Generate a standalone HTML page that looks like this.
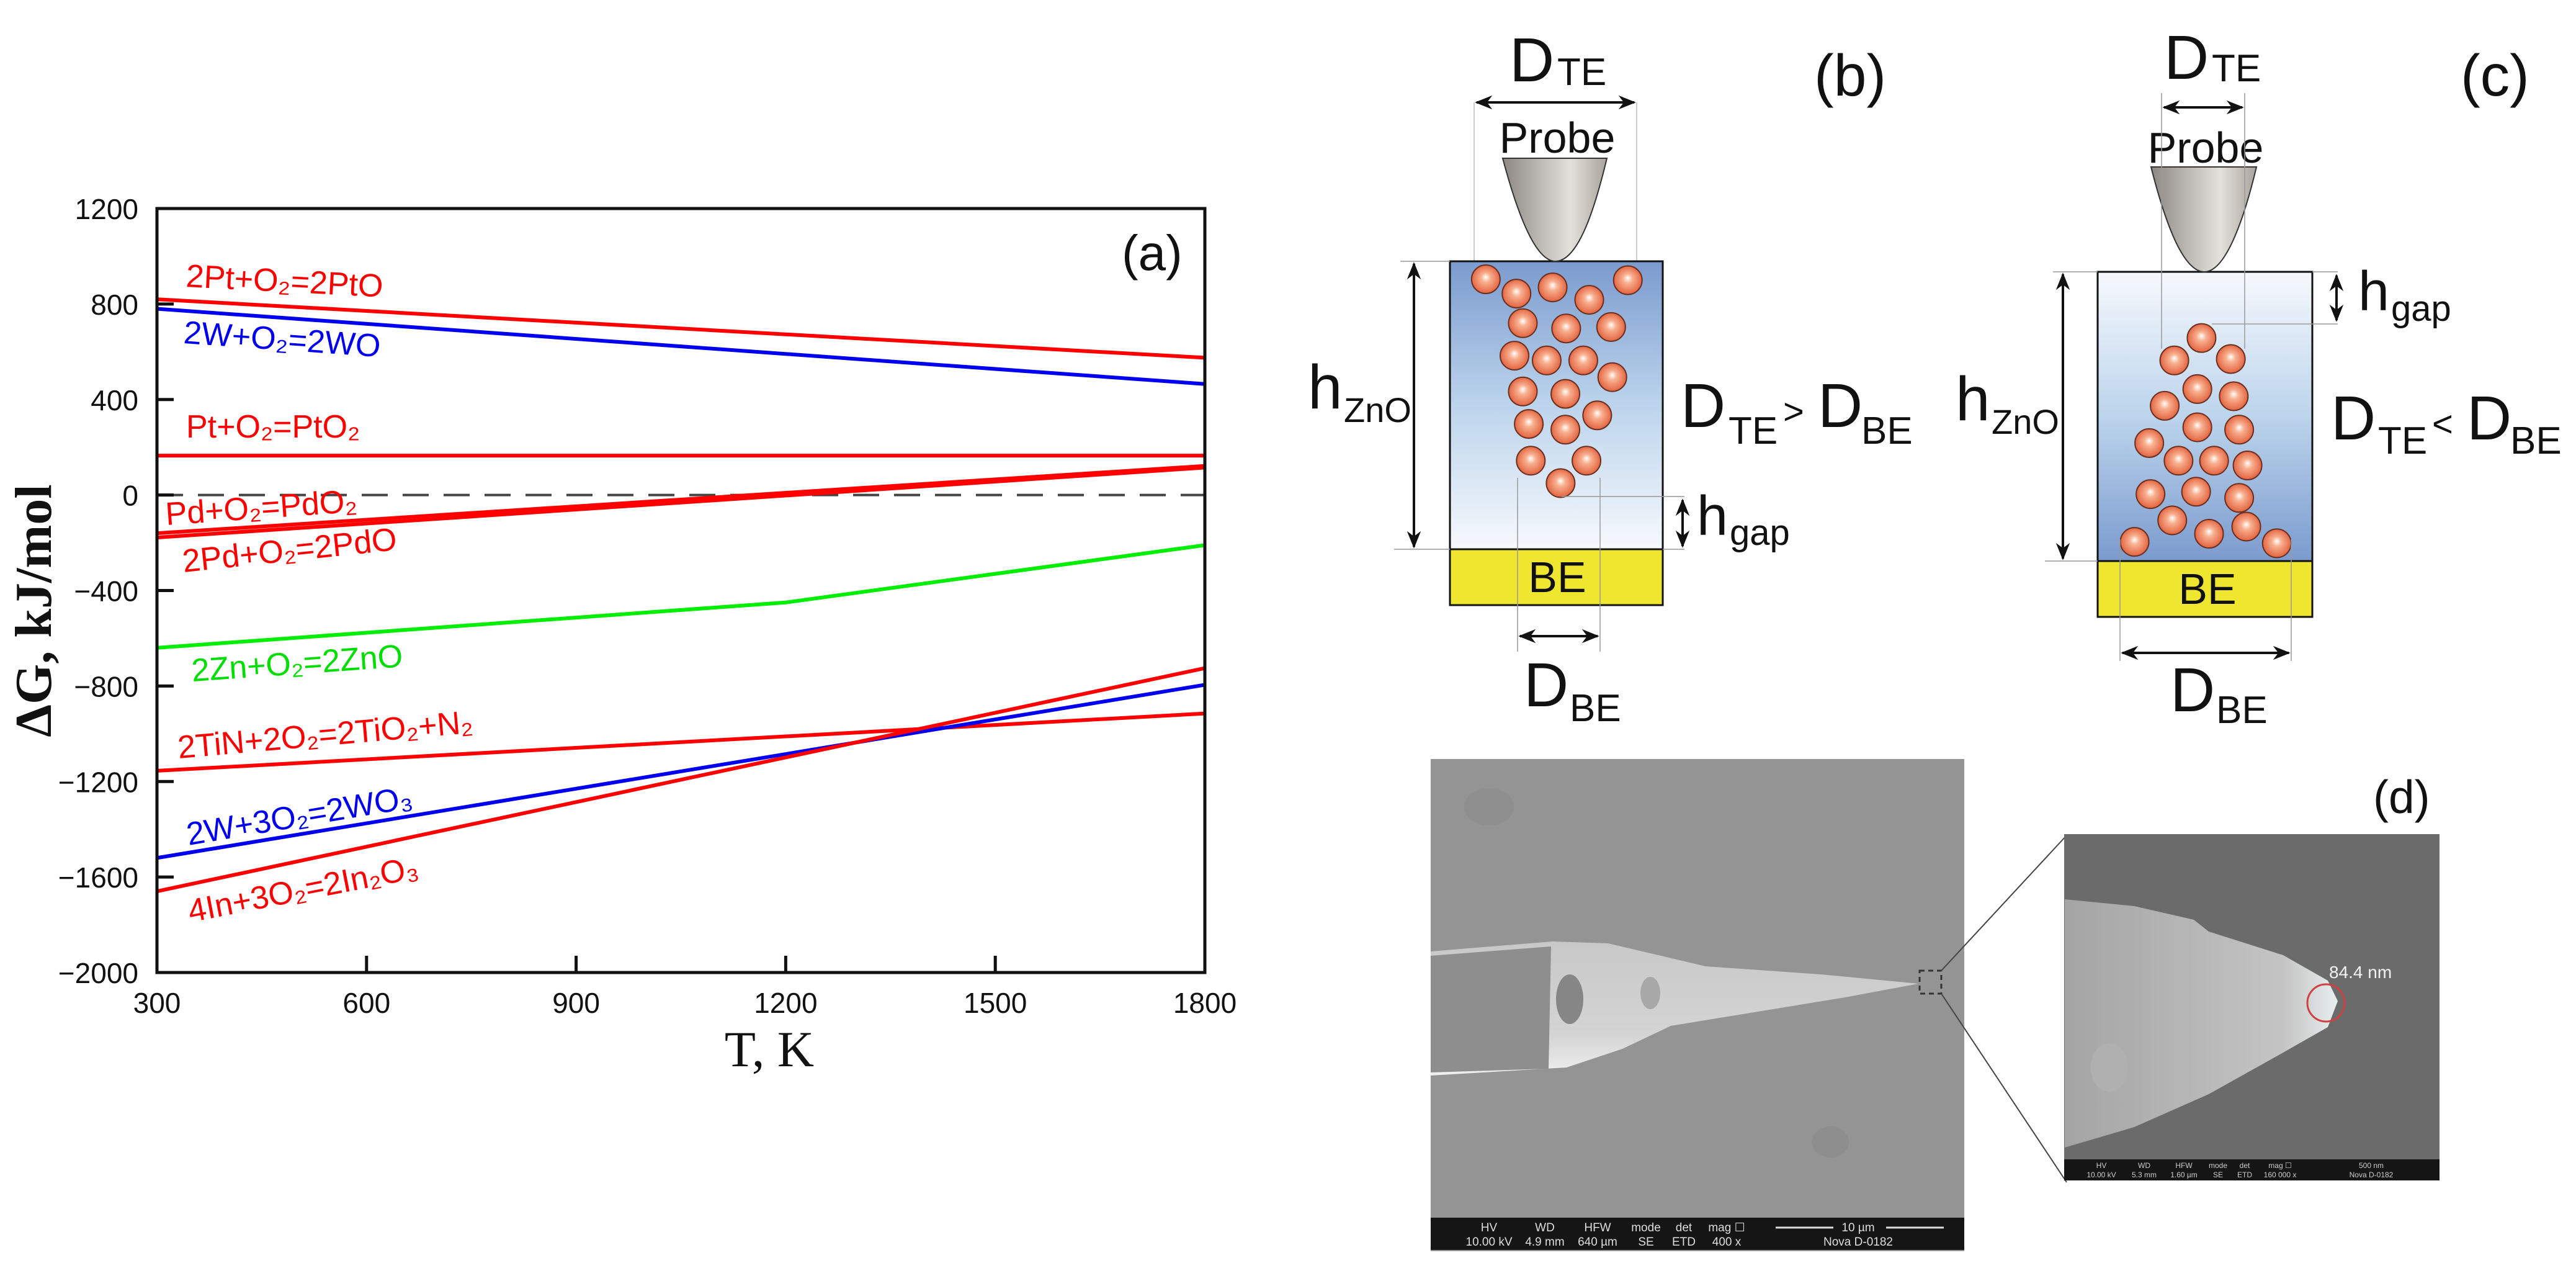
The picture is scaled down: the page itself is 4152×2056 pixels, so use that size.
<!DOCTYPE html>
<html><head><meta charset="utf-8">
<style>
html,body{margin:0;padding:0;background:#fff;}
svg{display:block;}
text{font-family:"Liberation Sans",sans-serif;}
.serif{font-family:"Liberation Serif",serif;}
</style></head>
<body>
<svg id="fig" width="4152" height="2056" viewBox="0 0 4152 2056" xmlns="http://www.w3.org/2000/svg">
<defs>
  <radialGradient id="ball" cx="50%" cy="50%" r="55%" fx="50%" fy="42%">
    <stop offset="0" stop-color="#ffffff"/>
    <stop offset="0.3" stop-color="#f8b090"/>
    <stop offset="1" stop-color="#e05a36"/>
  </radialGradient>
  <linearGradient id="probeG" x1="0" y1="0" x2="1" y2="0">
    <stop offset="0" stop-color="#8c8782"/>
    <stop offset="0.65" stop-color="#e4e1dc"/>
    <stop offset="1" stop-color="#a9a39c"/>
  </linearGradient>
  <linearGradient id="boxB" x1="0" y1="0" x2="0" y2="1">
    <stop offset="0" stop-color="#7b9bce"/>
    <stop offset="0.5" stop-color="#bcd4ec"/>
    <stop offset="1" stop-color="#f6f9fd"/>
  </linearGradient>
  <linearGradient id="boxC" x1="0" y1="0" x2="0" y2="1">
    <stop offset="0" stop-color="#f6f9fd"/>
    <stop offset="0.5" stop-color="#bcd4ec"/>
    <stop offset="1" stop-color="#7b9bce"/>
  </linearGradient>
  <linearGradient id="tipG" x1="0" y1="0" x2="1" y2="0">
    <stop offset="0" stop-color="#a4a4a4"/>
    <stop offset="0.8" stop-color="#c4c4c4"/>
    <stop offset="1" stop-color="#e8eeee"/>
  </linearGradient>
  <linearGradient id="needleG" x1="0" y1="0" x2="0" y2="1">
    <stop offset="0" stop-color="#c8c8c8"/>
    <stop offset="0.7" stop-color="#d4d4d4"/>
    <stop offset="1" stop-color="#f0f0f0"/>
  </linearGradient>
  <marker id="ah" viewBox="0 0 10 10" refX="9" refY="5" markerWidth="7" markerHeight="7" orient="auto-start-reverse">
    <path d="M0,1 L10,5 L0,9 L3,5 Z" fill="#111"/>
  </marker>
</defs>

<!-- ============ Panel (a) chart ============ -->
<g id="chart">
  <g id="series"></g>
  <g id="axes"></g>
  <g font-size="52">
    <text x="299" y="462" fill="#ff0000" transform="rotate(3 299 462)">2Pt+O₂=2PtO</text>
    <text x="295" y="553" fill="#0000ee" transform="rotate(4 295 553)">2W+O₂=2WO</text>
    <text x="300" y="705" fill="#ff0000">Pt+O₂=PtO₂</text>
    <text x="268" y="846" fill="#ff0000" transform="rotate(-4 268 846)">Pd+O₂=PdO₂</text>
    <text x="296" y="922" fill="#ff0000" transform="rotate(-6 296 922)">2Pd+O₂=2PdO</text>
    <text x="310" y="1098" fill="#00dd00" transform="rotate(-4 310 1098)">2Zn+O₂=2ZnO</text>
    <text x="288" y="1222" fill="#ff0000" transform="rotate(-5 288 1222)">2TiN+2O₂=2TiO₂+N₂</text>
    <text x="304" y="1362" fill="#0000ee" transform="rotate(-9.5 304 1362)">2W+3O₂=2WO₃</text>
    <text x="307" y="1486" fill="#ff0000" transform="rotate(-11 307 1486)">4In+3O₂=2In₂O₃</text>
  </g>
  <text x="1808" y="435" font-size="80" fill="#111">(a)</text>
  <text class="serif" font-size="84" font-weight="bold" fill="#111" transform="translate(82 984) rotate(-90)" text-anchor="middle">ΔG, kJ/mol</text>
  <text class="serif" font-size="82" fill="#111" x="1240" y="1718" text-anchor="middle">T, K</text>
</g>

<!-- ============ Panel (b) ============ -->
<g>
  <line x1="2376" y1="165" x2="2376" y2="421" stroke="#bbb" stroke-width="1.5"/>
  <line x1="2638" y1="165" x2="2638" y2="421" stroke="#bbb" stroke-width="1.5"/>
  <text x="2433" y="131" font-size="100" fill="#111">D</text>
  <text x="2510" y="137" font-size="62" fill="#111">TE</text>
  <line x1="2380" y1="165" x2="2634" y2="165" stroke="#111" stroke-width="4" marker-start="url(#ah)" marker-end="url(#ah)"/>
  <text x="2510" y="246" font-size="70" fill="#111" text-anchor="middle">Probe</text>
  <rect x="2337" y="421" width="343" height="464" fill="url(#boxB)" stroke="#111" stroke-width="3"/>
  <path d="M2422,255 L2590,255 C2572,330 2545,421 2507,421 C2472,421 2442,330 2422,255 Z" fill="url(#probeG)" stroke="#333" stroke-width="2"/>
  <rect x="2337" y="885" width="343" height="90" fill="#efe630" stroke="#111" stroke-width="3"/>
  <g id="ballsB"></g>
  <line x1="2446" y1="770" x2="2446" y2="1050" stroke="#999" stroke-width="1.5"/>
  <line x1="2579" y1="770" x2="2579" y2="1050" stroke="#999" stroke-width="1.5"/>
  <text x="2510" y="954" font-size="70" fill="#111" text-anchor="middle">BE</text>
  <line x1="2257" y1="421" x2="2337" y2="421" stroke="#999" stroke-width="1.5"/>
  <line x1="2247" y1="885" x2="2337" y2="885" stroke="#999" stroke-width="1.5"/>
  <line x1="2279" y1="425" x2="2279" y2="881" stroke="#111" stroke-width="4" marker-start="url(#ah)" marker-end="url(#ah)"/>
  <text x="2108" y="658" font-size="100" fill="#111">h</text>
  <text x="2166" y="680" font-size="56" fill="#111">ZnO</text>
  <text x="2709" y="688" font-size="100" fill="#111">D</text>
  <text x="2786" y="715" font-size="62" fill="#111">TE</text>
  <text x="2874" y="683" font-size="58" fill="#111">&gt;</text>
  <text x="2930" y="688" font-size="100" fill="#111">D</text>
  <text x="3000" y="715" font-size="62" fill="#111">BE</text>
  <line x1="2517" y1="800" x2="2715" y2="800" stroke="#999" stroke-width="1.5"/>
  <line x1="2680" y1="885" x2="2715" y2="885" stroke="#999" stroke-width="1.5"/>
  <line x1="2712" y1="806" x2="2712" y2="880" stroke="#111" stroke-width="4" marker-start="url(#ah)" marker-end="url(#ah)"/>
  <text x="2735" y="862" font-size="90" fill="#111">h</text>
  <text x="2788" y="878" font-size="58" fill="#111">gap</text>
  <line x1="2450" y1="1025" x2="2575" y2="1025" stroke="#111" stroke-width="4" marker-start="url(#ah)" marker-end="url(#ah)"/>
  <text x="2456" y="1138" font-size="100" fill="#111">D</text>
  <text x="2530" y="1162" font-size="62" fill="#111">BE</text>
  <text x="2924" y="154" font-size="95" fill="#111">(b)</text>
</g>

<!-- ============ Panel (c) ============ -->
<g>
  <text x="3488" y="127" font-size="100" fill="#111">D</text>
  <text x="3565" y="131" font-size="62" fill="#111">TE</text>
  <line x1="3488" y1="173" x2="3614" y2="173" stroke="#111" stroke-width="4" marker-start="url(#ah)" marker-end="url(#ah)"/>
  <text x="3555" y="262" font-size="70" fill="#111" text-anchor="middle">Probe</text>
  <rect x="3381" y="438" width="346" height="466" fill="url(#boxC)" stroke="#111" stroke-width="3"/>
  <path d="M3467,269 L3637,269 C3620,340 3590,438 3553,438 C3515,438 3485,340 3467,269 Z" fill="url(#probeG)" stroke="#333" stroke-width="2"/>
  <line x1="3484" y1="150" x2="3484" y2="562" stroke="#999" stroke-width="1.5"/>
  <line x1="3618" y1="150" x2="3618" y2="562" stroke="#999" stroke-width="1.5"/>
  <rect x="3381" y="904" width="346" height="90" fill="#efe630" stroke="#111" stroke-width="3"/>
  <g id="ballsC"></g>
  <line x1="3417" y1="869" x2="3417" y2="1065" stroke="#999" stroke-width="1.5"/>
  <line x1="3693" y1="869" x2="3693" y2="1065" stroke="#999" stroke-width="1.5"/>
  <text x="3558" y="973" font-size="70" fill="#111" text-anchor="middle">BE</text>
  <line x1="3309" y1="438" x2="3381" y2="438" stroke="#999" stroke-width="1.5"/>
  <line x1="3296" y1="904" x2="3381" y2="904" stroke="#999" stroke-width="1.5"/>
  <line x1="3325" y1="442" x2="3325" y2="900" stroke="#111" stroke-width="4" marker-start="url(#ah)" marker-end="url(#ah)"/>
  <text x="3152" y="677" font-size="100" fill="#111">h</text>
  <text x="3210" y="699" font-size="56" fill="#111">ZnO</text>
  <text x="3757" y="708" font-size="100" fill="#111">D</text>
  <text x="3833" y="731" font-size="62" fill="#111">TE</text>
  <text x="3920" y="703" font-size="58" fill="#111">&lt;</text>
  <text x="3976" y="708" font-size="100" fill="#111">D</text>
  <text x="4046" y="731" font-size="62" fill="#111">BE</text>
  <line x1="3727" y1="438" x2="3768" y2="438" stroke="#999" stroke-width="1.5"/>
  <line x1="3565" y1="522" x2="3768" y2="522" stroke="#999" stroke-width="1.5"/>
  <line x1="3766" y1="444" x2="3766" y2="516" stroke="#111" stroke-width="4" marker-start="url(#ah)" marker-end="url(#ah)"/>
  <text x="3801" y="500" font-size="90" fill="#111">h</text>
  <text x="3854" y="517" font-size="58" fill="#111">gap</text>
  <line x1="3421" y1="1052" x2="3689" y2="1052" stroke="#111" stroke-width="4" marker-start="url(#ah)" marker-end="url(#ah)"/>
  <text x="3498" y="1146" font-size="100" fill="#111">D</text>
  <text x="3572" y="1165" font-size="62" fill="#111">BE</text>
  <text x="3966" y="154" font-size="95" fill="#111">(c)</text>
</g>

<!-- ============ Panel (d) SEM ============ -->
<g>
  <rect x="2306" y="1223" width="860" height="793" fill="#949494"/>
  <ellipse cx="2400" cy="1300" rx="40" ry="30" fill="#8f8f8f"/>
  <ellipse cx="2950" cy="1840" rx="30" ry="25" fill="#8e8e8e"/>
  <polygon points="2306,1533 2502,1517 2592,1520 2749,1557 2935,1570 3092,1585 2974,1607 2693,1653 2615,1690 2525,1720 2306,1733" fill="url(#needleG)"/>
  <polygon points="2306,1540 2500,1525 2496,1722 2306,1728" fill="#8e8e8e"/>
  <ellipse cx="2530" cy="1610" rx="22" ry="40" fill="#868686"/>
  <ellipse cx="2660" cy="1600" rx="16" ry="26" fill="#a8a8a8"/>
  <rect x="3094" y="1564" width="35" height="37" fill="none" stroke="#333" stroke-width="3" stroke-dasharray="8 6"/>
  <rect x="2306" y="1962" width="860" height="52" fill="#151515"/>
  <g font-size="19" fill="#ddd" text-anchor="middle">
    <text x="2400" y="1984">HV</text><text x="2400" y="2007">10.00 kV</text>
    <text x="2490" y="1984">WD</text><text x="2490" y="2007">4.9 mm</text>
    <text x="2575" y="1984">HFW</text><text x="2575" y="2007">640 µm</text>
    <text x="2653" y="1984">mode</text><text x="2653" y="2007">SE</text>
    <text x="2714" y="1984">det</text><text x="2714" y="2007">ETD</text>
    <text x="2783" y="1984">mag ☐</text><text x="2783" y="2007">400 x</text>
    <text x="2995" y="1984">10 µm</text><text x="2995" y="2007">Nova D-0182</text>
  </g>
  <line x1="2862" y1="1978" x2="2955" y2="1978" stroke="#ddd" stroke-width="3"/>
  <line x1="3040" y1="1978" x2="3133" y2="1978" stroke="#ddd" stroke-width="3"/>

  <line x1="3129" y1="1564" x2="3331" y2="1346" stroke="#444" stroke-width="2"/>
  <line x1="3129" y1="1601" x2="3331" y2="1905" stroke="#444" stroke-width="2"/>

  <rect x="3327" y="1344" width="605" height="558" fill="#6b6b6b"/>
  <polygon points="3328,1449 3440,1460 3536,1482 3560,1501 3680,1539 3752,1580 3768,1613 3752,1655 3680,1696 3560,1763 3440,1816 3328,1849" fill="url(#tipG)"/>
  <ellipse cx="3400" cy="1720" rx="30" ry="40" fill="#b0b0b0"/>
  <ellipse cx="3749" cy="1616" rx="30" ry="30" fill="none" stroke="#d04040" stroke-width="3"/>
  <text x="3754" y="1576" font-size="28" fill="#f2f2f2">84.4 nm</text>
  <rect x="3327" y="1868" width="605" height="34" fill="#151515"/>
  <g font-size="12" fill="#ccc" text-anchor="middle">
    <text x="3387" y="1882">HV</text><text x="3387" y="1897">10.00 kV</text>
    <text x="3456" y="1882">WD</text><text x="3456" y="1897">5.3 mm</text>
    <text x="3520" y="1882">HFW</text><text x="3520" y="1897">1.60 µm</text>
    <text x="3575" y="1882">mode</text><text x="3575" y="1897">SE</text>
    <text x="3618" y="1882">det</text><text x="3618" y="1897">ETD</text>
    <text x="3675" y="1882">mag ☐</text><text x="3675" y="1897">160 000 x</text>
    <text x="3822" y="1882">500 nm</text><text x="3822" y="1897">Nova D-0182</text>
  </g>
  <text x="3825" y="1310" font-size="75" fill="#111">(d)</text>
</g>
</svg>

<script>
// ---- chart data ----
const xTicks = [300, 600, 900, 1200, 1500, 1800];
const yTicks = [1200, 800, 400, 0, -400, -800, -1200, -1600, -2000];
const yTickLabels = ["1200", "800", "400", "0", "−400", "−800", "−1200", "−1600", "−2000"];
const tPtO = [300, 1800];     const gPtO = [820, 575];
const tWO = [300, 1800];      const gWO = [780, 465];
const tPtO2 = [300, 1800];    const gPtO2 = [165, 165];
const tPdO2 = [300, 1800];    const gPdO2 = [-160, 122];
const tPdO = [300, 1800];     const gPdO = [-178, 115];
const tZnO = [300, 1200, 1800]; const gZnO = [-640, -450, -210];
const tTiO2 = [300, 1800];    const gTiO2 = [-1155, -915];
const tWO3 = [300, 1800];     const gWO3 = [-1520, -795];
const tIn2O3 = [300, 1800];   const gIn2O3 = [-1660, -725];

const NS = "http://www.w3.org/2000/svg";
const X0 = 253, X1 = 1942, Y0 = 336, Y1 = 1567;
function xs(v) { return X0 + (v - 300) / 1500 * (X1 - X0); }
function ys(v) { return Y0 + (1200 - v) / 3200 * (Y1 - Y0); }

const seriesG = document.getElementById('series');
function drawLine(ts, gs, color, name, w) {
  const p = document.createElementNS(NS, 'polyline');
  p.setAttribute('points', ts.map((t, i) => xs(t) + ',' + ys(gs[i])).join(' '));
  p.setAttribute('fill', 'none');
  p.setAttribute('stroke', color);
  p.setAttribute('stroke-width', w || 6);
  
  
  seriesG.appendChild(p);
}
const z = document.createElementNS(NS, 'line');
z.setAttribute('x1', X0); z.setAttribute('x2', X1);
z.setAttribute('y1', ys(0)); z.setAttribute('y2', ys(0));
z.setAttribute('stroke', '#444'); z.setAttribute('stroke-width', 4);
z.setAttribute('stroke-dasharray', '42 24');


seriesG.appendChild(z);

drawLine(tPtO, gPtO, '#ff0000', 'line-2pt-pto');
drawLine(tWO, gWO, '#0000ee', 'line-2w-wo');
drawLine(tPtO2, gPtO2, '#ff0000', 'line-pt-pto2');
drawLine(tPdO2, gPdO2, '#ff0000', 'line-pd-pdo2');
drawLine(tPdO, gPdO, '#ff0000', 'line-2pd-pdo');
drawLine(tZnO, gZnO, '#00ee00', 'line-2zn-zno');
drawLine(tTiO2, gTiO2, '#ff0000', 'line-2tin-tio2');
drawLine(tWO3, gWO3, '#0000ee', 'line-2w-wo3');
drawLine(tIn2O3, gIn2O3, '#ff0000', 'line-4in-in2o3');

const ax = document.getElementById('axes');
const frame = document.createElementNS(NS, 'rect');
frame.setAttribute('x', X0); frame.setAttribute('y', Y0);
frame.setAttribute('width', X1 - X0); frame.setAttribute('height', Y1 - Y0);
frame.setAttribute('fill', 'none'); frame.setAttribute('stroke', '#111'); frame.setAttribute('stroke-width', 5);


ax.appendChild(frame);
yTicks.forEach((v, i) => {
  if (v < 1200 && v > -2000) {
    const t = document.createElementNS(NS, 'line');
    t.setAttribute('x1', X0); t.setAttribute('x2', X0 + 27);
    t.setAttribute('y1', ys(v)); t.setAttribute('y2', ys(v));
    t.setAttribute('stroke', '#111'); t.setAttribute('stroke-width', 5);
    
    
    ax.appendChild(t);
  }
  const l = document.createElementNS(NS, 'text');
  l.setAttribute('x', 223); l.setAttribute('y', ys(v) + 17);
  l.setAttribute('text-anchor', 'end'); l.setAttribute('font-size', 46); l.setAttribute('fill', '#111');
  l.textContent = yTickLabels[i];
  
  
  ax.appendChild(l);
});
xTicks.forEach(v => {
  if (v > 300 && v < 1800) {
    const t = document.createElementNS(NS, 'line');
    t.setAttribute('x1', xs(v)); t.setAttribute('x2', xs(v));
    t.setAttribute('y1', Y1); t.setAttribute('y2', Y1 - 27);
    t.setAttribute('stroke', '#111'); t.setAttribute('stroke-width', 5);
    
    
    ax.appendChild(t);
  }
  const l = document.createElementNS(NS, 'text');
  l.setAttribute('x', xs(v)); l.setAttribute('y', 1632);
  l.setAttribute('text-anchor', 'middle'); l.setAttribute('font-size', 46); l.setAttribute('fill', '#111');
  l.textContent = String(v);
  
  
  ax.appendChild(l);
});

const ballsB = [[460,585],[537,615],[628,602],[720,628],[817,587],[553,677],[662,688],[775,685],[532,745],[613,755],[705,755],[778,790],[553,820],[660,825],[740,870],[568,888],[660,900],[573,965],[713,965],[648,1012]];
const ballsC = [[665,708],[600,755],[735,752],[655,815],[742,830],[577,850],[655,895],[755,900],[540,928],[610,965],[695,965],[775,975],[543,1035],[652,1030],[755,1043],[595,1090],[683,1118],[772,1103],[505,1135],[845,1138]];
function drawBalls(id, arr, ox, sx) {
  const g = document.getElementById(id);
  arr.forEach(p => {
    const c = document.createElementNS(NS, 'circle');
    c.setAttribute('cx', ox + p[0] / sx); c.setAttribute('cy', p[1] / 1.3);
    c.setAttribute('r', 23); c.setAttribute('fill', 'url(#ball)');
    c.setAttribute('stroke', '#6a3020'); c.setAttribute('stroke-width', 2);
    
    
    g.appendChild(c);
  });
}
drawBalls('ballsB', ballsB, 2100, 1.56);
drawBalls('ballsC', ballsC, 3100, 1.483);
</script>
</body></html>
